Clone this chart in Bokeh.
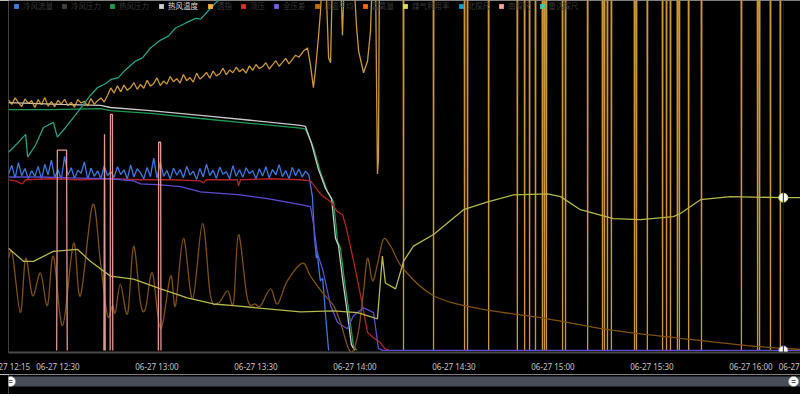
import pandas as pd
from bokeh.plotting import figure
from bokeh.models import (Range1d, Legend, LegendItem, FixedTicker,
                          DatetimeTickFormatter, Span)
from bokeh.layouts import column
from bokeh.embed import file_html
from bokeh.resources import INLINE

NA = float("nan")

# ---------------- axis / time settings ----------------
DAY = "2024-06-27"
AXIS_START = "12:15"          # left edge of the window
AXIS_SPAN_MIN = 240           # window length in minutes (to 16:15)
TICK_TIMES = ["12:15", "12:30", "13:00", "13:30", "14:00", "14:30",
              "15:00", "15:30", "16:00", "16:15"]
HOVER_MIN = 234.8             # axis pointer position (minutes after 12:15)
ZOOM_START_MIN = 0.6          # data-zoom handles
ZOOM_END_MIN = 237.9

SERIES_NAMES = ["冷风流量", "冷风压力", "热风压力", "热风温度", "透指", "顶压",
                "全压差", "顶温平均", "富氧量", "煤气利用率", "北探尺", "南探尺", "雷达探尺"]
LEGEND_COLORS = ["#3a7ee8", "#404040", "#12a44e", "#d0d0d0", "#f2b43a", "#ec2a2a",
                 "#7a5ee4", "#c46c10", "#ff6a10", "#d8e05c", "#10a4dc", "#f4a2a2", "#3ccdb0"]

# ---------------- series values (time in minutes after 12:15, value in % of scale) ----------------
# 冷风流量: one sample per minute, then the shutdown drop
cold_flow_v = [51.2, 53.8, 50.1, 54.6, 50.8, 52.9, 49.9, 52.2, 50.6, 53.5,
               49.8, 54.1, 51.0, 55.3, 50.2, 52.6, 49.6, 56.4, 50.9, 53.1,
               50.0, 52.4, 51.5, 54.8, 49.7, 53.0, 50.6, 52.2, 49.9, 53.6,
               50.8, 52.0, 50.3, 53.4, 51.1, 52.5, 49.8, 53.9, 50.4, 52.8,
               51.6, 49.9, 53.2, 50.5, 55.9, 50.1, 54.7, 50.6, 52.3, 49.8,
               53.0, 50.9, 52.6, 50.2, 53.5, 51.0, 52.1, 49.7, 52.9, 50.4,
               54.1, 50.8, 52.4, 50.0, 53.3, 51.2, 52.0, 49.9, 53.7, 50.6,
               52.5, 50.3, 53.1, 51.4, 52.2, 49.8, 52.8, 50.7, 53.4, 50.1,
               52.6, 51.0, 54.0, 50.5, 52.3, 49.9, 53.2, 50.8, 52.7, 50.4,
               52.1, 51.0]
cold_flow_drop_t = [92.1, 92.7, 93.3, 93.6, 93.9, 94.5, 95.2, 96.1, 97.0]
cold_flow_drop_v = [44.7, 33.1, 26.8, 28.8, 25.1, 20.2, 21.0, 10.1, 0.0]

# 热风压力
hot_press_t = [0, 12.7, 27.9, 30.9, 43.0, 58.2, 73.3, 88.5, 90.0, 92.4, 94.5, 96.7,
               98.5, 99.7, 100.6, 101.8, 103.3, 104.5, 105.5]
hot_press_v = [70.0, 70.0, 70.3, 69.7, 68.9, 67.4, 66.0, 64.6, 64.3, 59.1, 51.9, 46.1,
               43.2, 31.7, 29.7, 20.2, 10.1, 1.4, 0.0]

# 热风温度
hot_temp_t = [0, 6.7, 15.8, 27.9, 30.9, 43.0, 58.2, 73.3, 88.5, 90.0, 91.8, 93.9,
              96.1, 97.9, 99.1, 100.0, 101.2, 102.7, 103.9, 104.9]
hot_temp_v = [72.0, 71.8, 71.5, 71.2, 70.6, 69.7, 68.3, 66.9, 65.4, 65.1, 60.2, 52.7,
              47.0, 44.1, 32.6, 30.5, 21.0, 10.7, 1.7, 0.0]

# 透指: one sample per minute, then erratic readings, then off-scale with drops to zero
tz_noisy_v = [72.8, 71.5, 73.4, 72.0, 70.9, 73.1, 71.8, 72.6, 70.6, 72.9,
              71.4, 73.5, 71.0, 72.3, 70.8, 72.7, 71.6, 73.0, 71.2, 72.1,
              70.7, 72.9, 71.9, 72.4, 71.1, 73.2, 71.5, 72.6, 73.4, 72.2,
              74.1, 76.3, 74.8, 76.9, 75.2, 77.1, 75.6, 76.4, 77.8, 75.9,
              77.3, 76.2, 78.5, 76.8, 77.6, 79.2, 77.0, 78.3, 77.4, 79.6,
              78.1, 79.0, 77.7, 80.2, 78.4, 79.3, 78.0, 80.6, 78.9, 79.7,
              80.8, 79.1, 81.2, 79.8, 80.4, 82.0, 80.1, 81.5, 80.7, 82.3,
              81.0, 81.8, 80.6, 82.7, 81.4, 83.1, 81.9, 82.5, 83.6, 81.8,
              83.0, 84.2, 82.6, 83.7, 84.9, 83.3, 84.6, 85.8, 85.2]
tz_mid_t = [89.4, 90.6, 91.5, 92.4, 93.0, 93.9, 94.5, 95.2, 96.1, 97.0, 97.6, 98.2, 100.6,
            101.2, 101.8, 104.5, 105.5, 106.1, 107.6, 108.8, 109.7, 110.3, 111.2, 111.8,
            112.1, 112.4]
tz_mid_v = [87.0, 87.9, 83.0, 76.4, 81.3, 90.8, 98.0, 110, 110, 85.0, 83.6, 110, 110,
            91.6, 110, 110, 93.7, 87.0, 80.7, 84.1, 92.8, 110, 110, 51.3, 55.3, 110]
TZ_HIGH = 110   # off-scale reading
tz_drop_t = [119.7, 128.8, 138.2, 139.1, 145.5, 154.2, 156.4, 157.9, 159.7, 161.8, 162.4,
             163.0, 167.9, 168.8, 175.5, 180.0, 180.6, 181.5, 182.7, 189.7, 190.3, 193.6,
             198.2, 199.4, 200.6, 202.7, 203.3, 206.1, 210.0, 222.1, 227.0, 227.6, 230.9,
             233.9]

# 顶压
top_press_t = [0, 2.1, 4.2, 5.2, 12.7, 21.8, 30.9, 40.0, 49.1, 58.2, 59.1, 60.0, 69.4,
               69.7, 70.3, 79.4, 88.5, 91.5, 92.4, 94.5, 95.5, 97.6, 99.7, 101.2, 102.1,
               103.6, 105.2, 106.7, 108.8, 110.6, 112.7, 114.0, 115.2]
top_press_v = [49.6, 49.3, 48.4, 49.6, 49.9, 49.6, 49.9, 49.6, 49.6, 49.3, 48.7, 49.6, 49.6,
               47.8, 49.6, 49.9, 49.6, 49.3, 48.1, 45.5, 44.7, 43.2, 40.3, 39.5, 36.6,
               30.3, 23.1, 15.9, 5.2, 3.7, 2.3, 0.6, 0.0]

# 全压差
full_dp_t = [0, 9.7, 21.8, 30.9, 37.9, 40.0, 46.1, 52.1, 58.2, 70.3, 78.5, 88.5, 91.5,
             92.4, 93.6, 95.2, 97.6, 99.7, 102.7, 104.5, 107.6, 110.6, 112.1, 113.3, 240]
full_dp_v = [50.4, 50.4, 50.1, 49.9, 49.3, 48.4, 48.1, 47.6, 46.1, 45.2, 44.1, 42.4, 41.8,
             36.9, 28.2, 23.6, 13.0, 8.1, 6.3, 10.1, 12.4, 11.0, 0.6, 0.0, 0.0]

# 顶温平均
top_temp_t = [0, 1.2, 3.6, 5.2, 7.3, 9.7, 11.8, 13.6, 16.4, 19.7, 21.8, 25.5, 27.9, 30.0,
              31.5, 32.4, 33.9, 36.1, 37.9, 40.0, 41.5, 43.6, 46.1, 49.1, 50.6, 53.0, 55.8,
              58.8, 61.2, 63.6, 66.4, 68.2, 69.7, 72.4, 74.8, 76.4, 79.4, 81.5, 84.5, 89.1,
              91.5, 95.2, 98.5, 100.6, 103.0, 104.5, 106.1, 107.6, 108.8, 110.3, 111.8,
              113.6, 115.8, 119.7, 128.8, 143.0, 163.3, 183.3, 203.6, 223.9, 240]
top_temp_v = [26.8, 28.0, 11.0, 26.8, 15.9, 22.5, 13.0, 27.4, 7.2, 31.1, 15.9, 42.4, 25.4,
              10.1, 13.0, 11.0, 19.3, 10.7, 30.3, 13.8, 12.1, 22.5, 6.3, 21.6, 13.0, 32.6,
              15.0, 36.9, 15.9, 13.8, 17.3, 13.8, 33.7, 15.0, 13.5, 13.0, 17.9, 13.5, 20.2,
              25.4, 21.6, 16.7, 13.0, 8.1, 0.6, 0.0, 5.8, 17.3, 26.8, 20.2, 25.1, 32.3,
              30.3, 23.6, 15.9, 12.1, 9.2, 5.8, 3.5, 1.4, 0.3]

# 煤气利用率
gas_t = [0, 4.5, 7.6, 13.6, 20.9, 24.8, 30.9, 37.9, 46.1, 54.2, 62.1, 68.2, 78.5, 88.5,
         98.5, 105.8, 111.8, 113.3, 114.2, 117.3, 119.7, 122.7, 128.8, 137.9, 145.2, 153.0,
         163.3, 167.3, 173.3, 183.3, 191.5, 201.5, 203.6, 209.7, 218.8, 234.8, 240]
gas_v = [29.7, 25.9, 25.9, 28.8, 29.4, 25.9, 21.6, 20.7, 17.9, 15.3, 13.5, 13.0, 12.1, 11.2,
         11.5, 11.0, 9.2, 27.4, 19.6, 17.9, 25.9, 30.3, 33.7, 40.9, 43.2, 45.2, 45.5,
         44.7, 40.9, 38.3, 38.0, 38.9, 39.8, 43.8, 44.7, 44.4, 44.4]

# 南探尺 (gaps = no reading)
south_t = [14.6, 14.8, 17.6, 17.8, NA, 28.9, 29.1, 29.3, NA, 30.8, 30.9, 31.5, 31.6, NA,
           45.4, 45.5, 46.1, 46.2]
south_v = [0, 58.2, 58.2, 0, NA, 0, 62.8, 0, NA, 0, 68.6, 68.6, 0, NA,
           0, 60.5, 60.5, 0]

# 雷达探尺
radar_t = [0, 2.4, 5.2, 5.8, 8.2, 10.6, 13.6, 14.8, 17.3, 20.9, 24.8, 27.0, 29.4, 30.9,
           33.3, 35.5, 38.5, 40.6, 43.0, 46.1, 48.5, 50.6, 53.6, 56.7, 58.2, 60.6, 62.7,
           65.8, 70.3]
radar_v = [57.6, 59.9, 62.8, 56.2, 59.7, 64.8, 66.3, 62.0, 64.8, 69.2, 74.1, 76.4, 77.5,
           78.7, 79.3, 81.6, 84.1, 85.0, 87.9, 90.2, 91.4, 93.7, 95.1, 96.5, 96.3, 98.8,
           100.9, 103.7, 106.6]

# ---------------- helpers ----------------
base = pd.Timestamp(f"{DAY} {AXIS_START}")
EPOCH = pd.Timestamp("1970-01-01")
BASE_MS = (base - EPOCH).total_seconds() * 1000.0


def ms(minutes):
    return BASE_MS + minutes * 60000.0


def mslist(mins):
    return [ms(m) for m in mins]


tick_ms = [(pd.Timestamp(f"{DAY} {t}") - EPOCH).total_seconds() * 1000.0 for t in TICK_TIMES]

# assemble composite series
cold_flow_t = list(range(len(cold_flow_v))) + cold_flow_drop_t
cold_flow_all = cold_flow_v + cold_flow_drop_v

tz_t = list(range(len(tz_noisy_v))) + tz_mid_t
tz_v = tz_noisy_v + tz_mid_v
for d in tz_drop_t:
    tz_t += [d - 0.1, d, d + 0.1]
    tz_v += [TZ_HIGH, 0, TZ_HIGH]
tz_t.append(AXIS_SPAN_MIN)
tz_v.append(TZ_HIGH)

# ---------------- main figure ----------------
# canvas is shifted 20px left of the window so edge tick labels get cut like the original
LEFT_PAD, RIGHT_PAD = 28, 24
FRAME_W, FRAME_H = 792, 355
AXIS_H = 19
W = LEFT_PAD + FRAME_W + RIGHT_PAD

p = figure(width=W, height=FRAME_H + AXIS_H, x_axis_type="datetime",
           output_backend="svg", toolbar_location=None, y_axis_location=None,
           x_range=Range1d(ms(0), ms(AXIS_SPAN_MIN)), y_range=Range1d(-0.6, 101.7),
           background_fill_color="black", border_fill_color="black",
           outline_line_color=None, min_border=0, min_border_bottom=AXIS_H,
           min_border_left=LEFT_PAD, min_border_right=RIGHT_PAD)
p.grid.visible = False

xa = p.xaxis[0]
xa.ticker = FixedTicker(ticks=tick_ms)
fmt = "%m-%d %H:%M"
xa.formatter = DatetimeTickFormatter(seconds=fmt, minsec=fmt, minutes=fmt, hourmin=fmt,
                                     hours=fmt, days=fmt, months=fmt, years=fmt)
xa.axis_line_color = "#4a4a4a"
xa.axis_line_width = 2
xa.major_tick_line_color = None
xa.minor_tick_line_color = None
xa.major_tick_out = 0
xa.major_tick_in = 0
xa.major_label_standoff = 8
xa.major_label_text_color = "#c4c4c4"
xa.major_label_text_font = "Noto Sans"
xa.major_label_text_font_size = "8px"

p.add_layout(Span(location=ms(HOVER_MIN), dimension="height", line_color="#1c1c26", line_width=1))

LW = 1.3
p.line(mslist(cold_flow_t), cold_flow_all, line_color="#3a78e0", line_width=LW)
p.line(mslist(hot_press_t), hot_press_v, line_color="#1f9a55", line_width=LW)
p.line(mslist(hot_temp_t), hot_temp_v, line_color="#c8c8c8", line_width=LW)
p.line(mslist(tz_t), tz_v, line_color="#e2a73a", line_width=LW, line_alpha=0.9)
p.line(mslist(top_press_t), top_press_v, line_color="#b82222", line_width=LW)
p.line(mslist(full_dp_t), full_dp_v, line_color="#5b4bd0", line_width=LW)

# 顶温平均 is a smoothed line: draw it as a chain of cubic segments through the points
bt, bv = mslist(top_temp_t), top_temp_v
n = len(bt)
seg = {k: [] for k in ("x0", "y0", "x1", "y1", "cx0", "cy0", "cx1", "cy1")}
for i in range(n - 1):
    im = max(i - 1, 0)
    ip = min(i + 2, n - 1)
    seg["x0"].append(bt[i]); seg["y0"].append(bv[i])
    seg["x1"].append(bt[i + 1]); seg["y1"].append(bv[i + 1])
    seg["cx0"].append(bt[i] + (bt[i + 1] - bt[im]) / 6.0)
    seg["cy0"].append(bv[i] + (bv[i + 1] - bv[im]) / 6.0)
    seg["cx1"].append(bt[i + 1] - (bt[ip] - bt[i]) / 6.0)
    seg["cy1"].append(bv[i + 1] - (bv[ip] - bv[i]) / 6.0)
p.bezier(line_color="#80500f", line_width=LW, **seg)

p.line(mslist(gas_t), gas_v, line_color="#b5b84a", line_width=LW)
p.line(mslist(south_t), south_v, line_color="#e3978f", line_width=LW)
p.line(mslist(radar_t), radar_v, line_color="#24a286", line_width=LW)

# axis-pointer highlight symbols
p.scatter([ms(HOVER_MIN)], [gas_v[-2]], size=9, fill_color="white", line_color="#d8e05c", line_width=1)
p.scatter([ms(HOVER_MIN)], [full_dp_v[-1]], size=9, fill_color="white", line_color="#b48ad8", line_width=1)

# legend swatches (zero-area quads, used only for legend icons)
swatches = []
for col in LEGEND_COLORS:
    swatches.append(p.quad(left=[ms(0)], right=[ms(0)], bottom=[0], top=[0],
                           fill_color=col, line_color=None))


def add_legend(indices, x, text_color):
    lg = Legend(items=[LegendItem(label=SERIES_NAMES[i], renderers=[swatches[i]]) for i in indices],
                orientation="horizontal", location=(x, FRAME_H - 14),
                glyph_width=6, glyph_height=6, label_standoff=4, spacing=8,
                padding=0, margin=0, border_line_color=None, background_fill_alpha=0,
                label_text_font="Noto Sans CJK SC", label_text_font_size="7.5px",
                label_text_color=text_color, label_height=6, label_width=0)
    p.add_layout(lg)


add_legend([0, 1, 2], 5, "#3a3a3a")
add_legend([3], 150, "#dcdcdc")
add_legend(list(range(4, 13)), 199, "#3a3a3a")

# ---------------- data-zoom slider ----------------
s = figure(width=W, height=20, output_backend="svg", toolbar_location=None,
           x_axis_location=None, y_axis_location=None,
           x_range=Range1d(ms(0), ms(AXIS_SPAN_MIN)), y_range=Range1d(0, 20),
           background_fill_color="black", border_fill_color="black",
           outline_line_color=None, min_border=0,
           min_border_left=LEFT_PAD, min_border_right=RIGHT_PAD)
s.grid.visible = False
s.quad(left=[ms(0)], right=[ms(AXIS_SPAN_MIN)], bottom=[8], top=[18],
       fill_color="#474e57", line_color=None)
handles = [ms(ZOOM_START_MIN), ms(ZOOM_END_MIN)]
s.scatter(handles, [13, 13], size=10, fill_color="white", line_color="#9aa0a8", line_width=0.5)
s.scatter(handles + handles, [12, 12, 14, 14], marker="dash", size=4,
          line_color="#555555", line_width=1)

layout = column(p, s, spacing=0, styles={"margin-left": "-20px"})
html = file_html(layout, INLINE)
html = html.replace("<body", '<body style="background-color:#000000;overflow:hidden;"', 1)
open("out.html", "w").write(html)
